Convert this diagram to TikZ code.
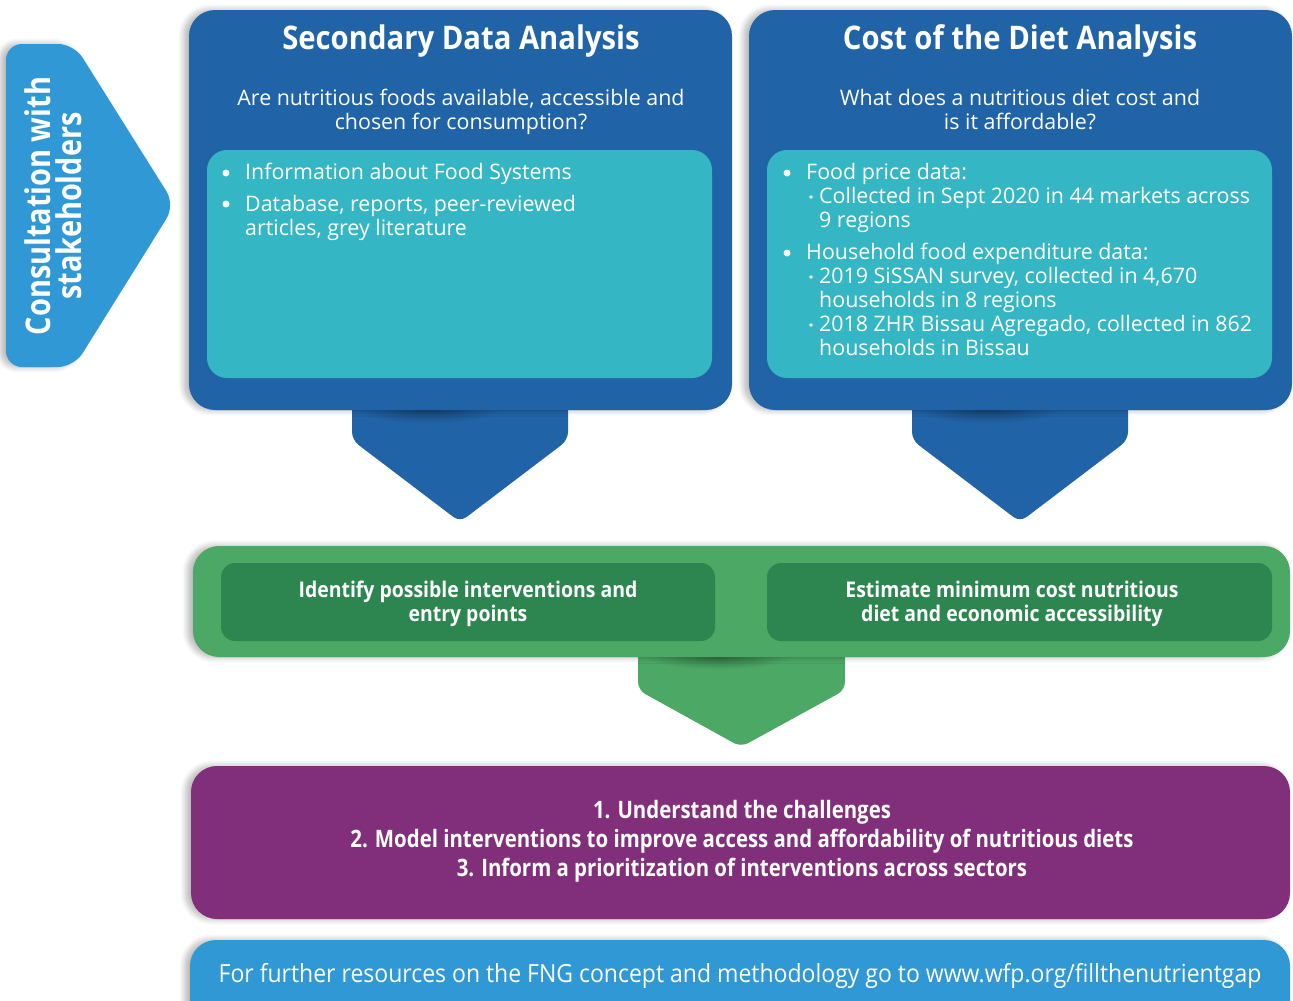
\documentclass[tikz,border=0pt]{standalone}
\usepackage{fontspec}
\setmainfont{Open Sans}
\newfontfamily\condfam{Open Sans}[FakeStretch=0.85]
\newfontfamily\midfam{Open Sans}[FakeStretch=0.9]
\newfontfamily\footfam{Open Sans}[FakeStretch=0.92]
\usetikzlibrary{shadows.blur}
\definecolor{dkblue}{HTML}{2063A6}
\definecolor{teal}{HTML}{35B6C4}
\definecolor{ltblue}{HTML}{2F98D5}
\definecolor{ltgreen}{HTML}{4CA865}
\definecolor{dkgreen}{HTML}{2D864F}
\definecolor{purple}{HTML}{812E7B}
\tikzset{
  sh/.style={blur shadow={shadow xshift=-5pt, shadow yshift=0pt, shadow blur steps=10, shadow opacity=30, shadow blur radius=6pt}},
  bigbox/.style={fill=dkblue, rounded corners=26pt, sh},
  innerbox/.style={fill=teal, rounded corners=20pt},
  greenband/.style={fill=ltgreen, rounded corners=26pt, sh},
  greenbox/.style={fill=dkgreen, rounded corners=14pt},
  title/.style={text=white, anchor=base, font=\midfam\bfseries\fontsize{32.5}{36}\selectfont, inner sep=0pt},
  question/.style={text=white, anchor=base, font=\fontsize{21.4}{24}\selectfont, inner sep=0pt},
  item/.style={text=white, anchor=base west, font=\fontsize{21.4}{24}\selectfont, inner sep=0pt},
  dot/.style={circle, fill=white, inner sep=0pt, minimum size=7pt},
  subdot/.style={circle, fill=white, inner sep=0pt, minimum size=3.6pt},
  gtext/.style={text=white, anchor=base, font=\midfam\bfseries\fontsize{21.6}{24}\selectfont, inner sep=0pt},
  ptext/.style={text=white, anchor=base, font=\condfam\bfseries\fontsize{24}{29}\selectfont, inner sep=0pt},
}
\begin{document}
\begin{tikzpicture}[x=1pt,y=-1pt]
\useasboundingbox (0,0) rectangle (1293,1001);
\clip (0,0) rectangle (1293,1001);
% consultation arrow
\fill[ltblue, rounded corners=16pt, sh] (6,44) -- (74,44) -- (175,205) -- (74,367) -- (6,367) -- cycle;
\node[text=white, rotate=90, align=center, font=\condfam\bfseries\fontsize{34}{31}\selectfont, inner sep=0pt] (consult) at (53,206) {Consultation with\\stakeholders};
% blue chevrons
\fill[dkblue, rounded corners=8pt] (352,395) -- (352,440) -- (460,522) -- (568,440) -- (568,395) -- cycle;
\fill[dkblue, rounded corners=8pt] (912,395) -- (912,440) -- (1020,522) -- (1128,440) -- (1128,395) -- cycle;
\shade[inner color=dkblue!65!black, outer color=dkblue] (428,409) ellipse (74pt and 14pt);
\shade[inner color=dkblue!65!black, outer color=dkblue] (988,409) ellipse (74pt and 14pt);
% big boxes
\node[bigbox, minimum width=543pt, minimum height=400pt] (box1) at (460.5,210) {};
\node[bigbox, minimum width=543pt, minimum height=400pt] (box2) at (1020.5,210) {};
\node[innerbox, minimum width=505pt, minimum height=228pt] (in1) at (459.5,264) {};
\node[innerbox, minimum width=505pt, minimum height=228pt] (in2) at (1019.5,264) {};
\node[title] (t1) at (461,49) {Secondary Data Analysis};
\node[title] (t2) at (1020,49) {Cost of the Diet Analysis};
\node[question] (q1a) at (461,105) {Are nutritious foods available, accessible and};
\node[question] (q1b) at (461,129) {chosen for consumption?};
\node[question] (q2a) at (1020,105) {What does a nutritious diet cost and};
\node[question] (q2b) at (1020,129) {is it affordable?};
% list 1
\node[dot] (d11) at (226,173) {};
\node[item] (i11) at (245,179) {Information about Food Systems};
\node[dot] (d12) at (226,204) {};
\node[item] (i12) at (245,211) {Database, reports, peer-reviewed};
\node[item] (i13) at (245,235) {articles, grey literature};
% list 2
\node[dot] (d21) at (787,173) {};
\node[item] (i21) at (806,179) {Food price data:};
\node[subdot] (s21) at (811,197) {};
\node[item] (i22) at (819,203) {Collected in Sept 2020 in 44 markets across};
\node[item] (i23) at (819,227) {9 regions};
\node[dot] (d22) at (787,253) {};
\node[item] (i24) at (806,259) {Household food expenditure data:};
\node[subdot] (s22) at (811,277) {};
\node[item] (i25) at (819,283) {2019 SiSSAN survey, collected in 4,670};
\node[item] (i26) at (819,307) {households in 8 regions};
\node[subdot] (s23) at (811,325) {};
\node[item] (i27) at (819,331) {2018 ZHR Bissau Agregado, collected in 862};
\node[item] (i28) at (819,355) {households in Bissau};
% green chevron
\fill[ltgreen, rounded corners=8pt] (638,640) -- (638,690) -- (741,747) -- (845,690) -- (845,640) -- cycle;
\shade[inner color=ltgreen!65!black, outer color=ltgreen] (718,657) ellipse (74pt and 12pt);
% green band
\node[greenband, minimum width=1097pt, minimum height=111pt] (band) at (741.5,601.5) {};
\node[greenbox, minimum width=494pt, minimum height=78pt] (g1) at (468,602) {};
\node[greenbox, minimum width=505pt, minimum height=78pt] (g2) at (1019.5,602) {};
\node[gtext] (gt1a) at (468,597) {Identify possible interventions and};
\node[gtext] (gt1b) at (468,621) {entry points};
\node[gtext] (gt2a) at (1012,597) {Estimate minimum cost nutritious};
\node[gtext] (gt2b) at (1012,621) {diet and economic accessibility};
% purple box
\node[fill=purple, rounded corners=26pt, sh, minimum width=1099pt, minimum height=153pt] (purp) at (740.5,842.5) {};
\node[ptext] (p1) at (742,818) {1. Understand the challenges};
\node[ptext] (p2) at (742,847) {2. Model interventions to improve access and affordability of nutritious diets};
\node[ptext] (p3) at (742,876) {3. Inform a prioritization of interventions across sectors};
% footer
\node[fill=ltblue, rounded corners=26pt, sh, minimum width=1100pt, minimum height=100pt] (foot) at (740,990) {};
\node[text=white, anchor=base, font=\footfam\fontsize{25}{28}\selectfont, inner sep=0pt] (ft) at (740,982) {For further resources on the FNG concept and methodology go to www.wfp.org/fillthenutrientgap};
\end{tikzpicture}
\end{document}
